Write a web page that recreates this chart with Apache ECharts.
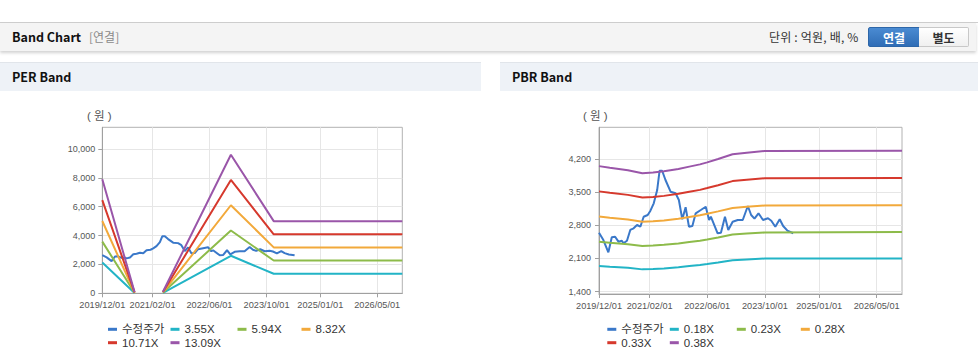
<!DOCTYPE html>
<html><head><meta charset="utf-8">
<script src="https://cdn.jsdelivr.net/npm/echarts@6/dist/echarts.min.js"></script>
<style>
html,body{margin:0;padding:0;background:#fff;width:978px;height:361px;overflow:hidden;font-family:"Noto Sans CJK KR","Noto Sans",sans-serif;}
.abs{position:absolute;}
.txt{position:absolute;white-space:nowrap;}
.btn{position:absolute;box-sizing:border-box;text-align:center;font:bold 12px/19px "Noto Sans CJK KR",sans-serif;}
.ph{position:absolute;top:62px;height:29px;background:#eef2f7;border-top:1px solid #e1e5ea;box-sizing:border-box;}
.ph span{position:absolute;left:12px;top:6px;font:bold 12.5px/16px "Noto Sans CJK KR",sans-serif;color:#111;}
</style></head>
<body>
<div class="abs" style="left:0;top:22px;width:978px;height:1px;background:#cfcfcf"></div>
<div class="abs" style="left:0;top:23px;width:976px;height:28px;background:#f4f4f4;box-shadow:0 2px 3px rgba(0,0,0,0.18)"></div>
<div class="txt" style="left:12px;top:29px;font:bold 12.5px/16px 'Noto Sans CJK KR',sans-serif;color:#111">Band Chart</div>
<div class="txt" style="left:89px;top:29px;font:12px/16px 'Noto Sans CJK KR',sans-serif;color:#8a8a8a">[연결]</div>
<div class="txt" style="left:769px;top:29px;font:12px/16px 'Noto Sans CJK KR',sans-serif;color:#333;letter-spacing:0.2px">단위 : 억원, 배, %</div>
<div class="btn" style="left:868px;top:27px;width:52px;height:20px;background:linear-gradient(#4a8bd2,#2f6db6);color:#fff;border:1px solid #2d66a8;border-radius:2px 0 0 2px">연결</div>
<div class="btn" style="left:919px;top:27px;width:50px;height:20px;background:linear-gradient(#ffffff,#f0f0f0);color:#333;border:1px solid #c8c8c8;border-left:none;border-radius:0 2px 2px 0">별도</div>
<div class="ph" style="left:0;width:481px"><span>PER Band</span></div>
<div class="ph" style="left:500px;width:478px"><span>PBR Band</span></div>
<div id="per" class="abs" style="left:0;top:92px;width:485px;height:269px"></div>
<div id="pbr" class="abs" style="left:500px;top:92px;width:478px;height:269px"></div>
<script>
// ---------- data ----------
const priceDates = ['2019-12-01','2020-01-07','2020-02-18','2020-03-18','2020-04-15','2020-05-13','2020-06-11','2020-06-25','2020-07-24','2020-08-21','2020-09-18','2020-10-17','2020-11-14','2020-12-12','2021-01-15','2021-02-07','2021-03-07','2021-04-05','2021-04-25','2021-05-17','2021-06-14','2021-07-27','2021-09-07','2021-10-05','2021-11-03','2021-12-01','2021-12-29','2022-01-27','2022-02-24','2022-04-08','2022-05-20','2022-06-17','2022-07-02','2022-08-28','2022-09-25','2022-10-29','2022-11-26','2023-01-02','2023-02-14','2023-03-28','2023-05-10','2023-06-07','2023-07-05','2023-08-08','2023-09-15','2023-10-27','2023-11-24','2023-12-28','2024-02-03','2024-03-03','2024-04-08','2024-05-27'];
const priceValues = [2645,2490,2231,2548,2560,2455,2476,2421,2476,2702,2737,2807,2771,2982,3018,3109,3265,3546,3950,3953,3757,3510,3476,3335,2927,3181,2771,2786,3054,3124,3193,2913,2982,2632,2645,2982,2702,2877,2913,2913,3208,3018,2940,3054,2913,2949,2898,2771,2927,2786,2687,2632];

const perBandDates = ['2019-12-01','2020-09-01','2021-01-01','2021-05-01','2022-12-01','2023-12-01','2026-12-01'];
const per355  = [2140, 20, null,  30, 2600, 1356, 1356];
const per594  = [3580, 35, null,  50, 4350, 2270, 2270];
const per832  = [5010, 50, null,  70, 6100, 3180, 3180];
const per1071 = [6450, 65, null,  90, 7850, 4090, 4090];
const per1309 = [7900, 80, null, 110, 9600, 5000, 5000];
const perNames = ['수정주가','3.55X','5.94X','8.32X','10.71X','13.09X'];

const pbrBandDates = ['2019-12-01','2020-03-01','2020-08-01','2020-12-01','2021-03-01','2021-06-01','2021-10-01','2022-01-01','2022-04-01','2022-06-01','2022-09-01','2023-01-01','2023-05-01','2023-10-01','2026-12-01'];
const pbr018 = [1943,1927,1903,1870,1878,1890,1915,1940,1962,1982,2015,2063,2080,2098,2100];
const pbr023 = [2455,2433,2402,2365,2373,2388,2418,2448,2476,2502,2545,2605,2625,2650,2660];
const pbr028 = [2984,2958,2921,2874,2885,2903,2940,2977,3011,3043,3095,3168,3193,3220,3225];
const pbr033 = [3517,3487,3443,3387,3400,3422,3465,3508,3549,3587,3647,3734,3763,3795,3800];
const pbr038 = [4050,4015,3965,3900,3915,3940,3990,4040,4087,4130,4200,4300,4333,4370,4375];
const pbrNames = ['수정주가','0.18X','0.23X','0.28X','0.33X','0.38X'];

const xTickDates = ['2019-12-01','2021-02-01','2022-06-01','2023-10-01','2025-01-01','2026-05-01'];
const xMinDate = '2019-12-01', xMaxDate = '2026-12-01';
const perYTicks = [0,2000,4000,6000,8000,10000];
const pbrYTicks = [1400,2100,2800,3500,4200];
const colors = ['#3a78c9','#22b4c6','#8dbb4a','#f2a93b','#d6392d','#9a56a9'];

// ---------- helpers ----------
const FONT = '"Liberation Sans","Noto Sans CJK KR",sans-serif';
function ts(s){const p=s.split('-');return new Date(+p[0],+p[1]-1,+p[2]).getTime();}
function fmtDate(v){const d=new Date(v);const m=d.getMonth()+1,dd=d.getDate();return d.getFullYear()+'/'+(m<10?'0':'')+m+'/'+(dd<10?'0':'')+dd;}
function fmtNum(v){return Math.round(v).toString().replace(/\B(?=(\d{3})+(?!\d))/g,',');}
function pairs(dates, vals){return dates.map((d,i)=>[ts(d), vals[i]==null?'-':vals[i]]);}

function build(cfg){
  const xt = xTickDates.map(ts);
  const colW = [48.5,53,50,40];
  const rich = {};
  colW.forEach((w,i)=>{rich['c'+i]={width:w,height:13.4,fontSize:11.5,fontFamily:FONT,color:'#333',lineHeight:13.4};});
  const series = [{name:cfg.names[0], data:pairs(priceDates, priceValues)}]
    .concat(cfg.bands.map((b,i)=>({name:cfg.names[i+1], data:pairs(cfg.bandDates,b)})))
    .map((s,i)=>Object.assign(s,{type:'line',symbol:'none',connectNulls:false,
      lineStyle:{width:2,color:colors[i]},itemStyle:{color:colors[i]},z:2}));
  return {
    animation:false,
    textStyle:{fontFamily:FONT},
    grid:{left:cfg.gl,top:35.3,right:cfg.gr,bottom:cfg.gb,show:true,borderColor:'#b2b2b2',borderWidth:1,backgroundColor:'transparent'},
    graphic:[{type:'text',left:cfg.nameX,top:18.5,style:{text:'( 원 )',font:'11.5px '+FONT,fill:'#555'}}],
    legend:{left:cfg.legL,top:230.6,width:270,padding:0,itemGap:0,itemWidth:9,itemHeight:3,icon:'rect',
      data:cfg.names,
      formatter:name=>'{c'+(cfg.names.indexOf(name)%4)+'|'+name+'}',
      textStyle:{fontSize:11.5,fontFamily:FONT,color:'#333',lineHeight:13.4,rich:rich}},
    xAxis:{type:'value',min:ts(xMinDate),max:ts(xMaxDate),
      axisLine:{show:true,lineStyle:{color:'#a0a0a0'}},
      axisTick:{show:true,customValues:xt,length:4,lineStyle:{color:'#a0a0a0'}},
      axisLabel:{customValues:xt,formatter:fmtDate,fontSize:9.2,color:'#555',margin:7,fontFamily:FONT},
      splitLine:{show:true,lineStyle:{color:'#e6e6e6'}}},
    yAxis:{type:'value',min:cfg.ymin,max:cfg.ymax,
      axisLine:{show:true,lineStyle:{color:'#a0a0a0'}},
      axisTick:{show:true,customValues:cfg.yt,length:4,lineStyle:{color:'#a0a0a0'}},
      axisLabel:{customValues:cfg.yt,formatter:fmtNum,fontSize:9,color:'#555',margin:cfg.ym,fontFamily:FONT},
      splitLine:{show:true,lineStyle:{color:'#e6e6e6'}}},
    series:series
  };
}

const perChart = echarts.init(document.getElementById('per'),null,{renderer:'svg'});
perChart.setOption(build({names:perNames,bands:[per355,per594,per832,per1071,per1309],bandDates:perBandDates,
  gl:102.3,gr:82.7,gb:67.7,ymin:0,ymax:11500,yt:perYTicks,ym:7,legL:108,nameX:87}));
const pbrChart = echarts.init(document.getElementById('pbr'),null,{renderer:'svg'});
pbrChart.setOption(build({names:pbrNames,bands:[pbr018,pbr023,pbr028,pbr033,pbr038],bandDates:pbrBandDates,
  gl:99,gr:76,gb:67,ymin:1350,ymax:4870,yt:pbrYTicks,ym:8,legL:107.3,nameX:83}));
</script>
</body></html>
